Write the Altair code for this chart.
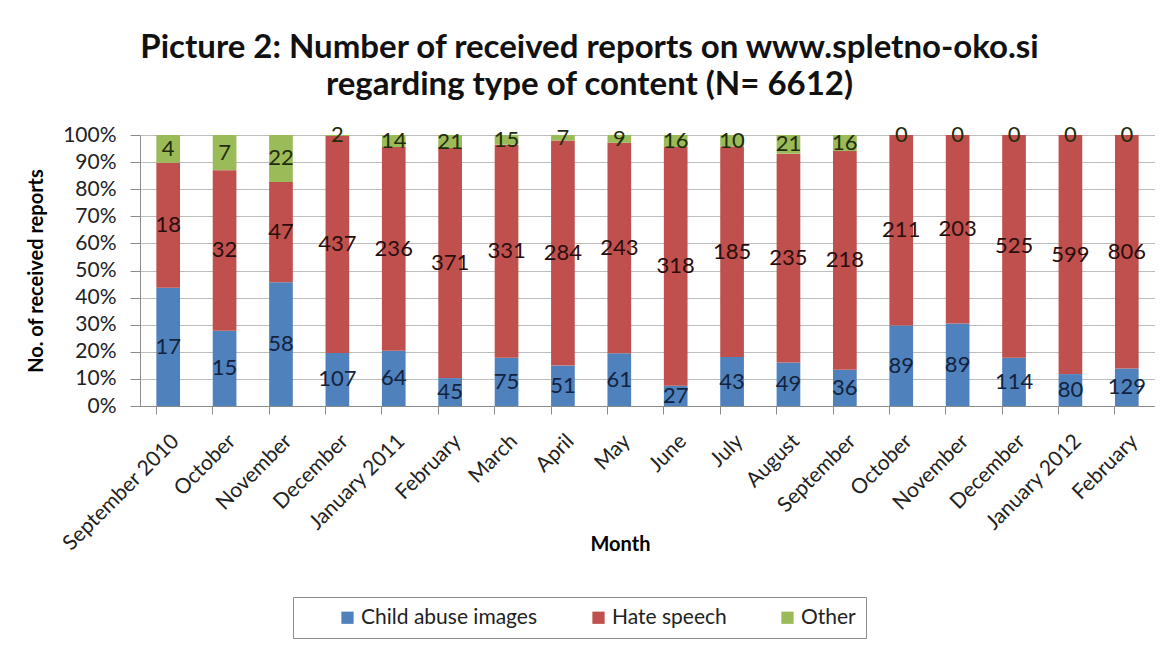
import json
import altair as alt
import pandas as pd

months = ["September 2010", "October", "November", "December", "January 2011",
          "February", "March", "April", "May", "June", "July", "August",
          "September", "October", "November", "December", "January 2012", "February"]
child = [17, 15, 58, 107, 64, 45, 75, 51, 61, 27, 43, 49, 36, 89, 89, 114, 80, 129]
hate = [18, 32, 47, 437, 236, 371, 331, 284, 243, 318, 185, 235, 218, 211, 203, 525, 599, 806]
other = [4, 7, 22, 2, 14, 21, 15, 7, 9, 16, 10, 21, 16, 0, 0, 0, 0, 0]
categories = ["Child abuse images", "Hate speech", "Other"]
colors = ["#4F81BD", "#C0504D", "#9BBB59"]
label_colors = ["#13233d", "#2a0e0d", "#1f2d0c"]
title_lines = ["Picture 2: Number of received reports on www.spletno-oko.si",
               "regarding type of content (N= 6612)"]

rows = []
for i in range(len(months)):
    for k, (cat, vals) in enumerate(zip(categories, [child, hate, other])):
        rows.append({"idx": i, "cat": cat, "order": k, "value": vals[i]})
df = pd.DataFrame(rows)

FONT = "Lato"
label_expr = json.dumps(months) + "[datum.value]"
xscale = alt.Scale(paddingInner=0.58, paddingOuter=0.29)
yscale = alt.Scale(domain=[0, 1])

label_axis = alt.Axis(labelExpr=label_expr, labelAngle=-45, ticks=False, domain=True,
                      domainColor="#8c8c8c", labelFontSize=21, labelPadding=24,
                      title="Month", titleFontSize=20, titleFontWeight="bold",
                      titleX=480, titleY=128, titleBaseline="top", orient="bottom",
                      labelColor="#222")
tick_axis = alt.Axis(labels=False, title=None, ticks=True, tickSize=8, bandPosition=0,
                     tickColor="#8c8c8c", domainColor="#8c8c8c", orient="bottom")
y_axis = alt.Axis(format="%", values=[i / 10 for i in range(11)],
                  title="No. of received reports", titleFontSize=20,
                  titleFontWeight="bold", titlePadding=16,
                  labelFontSize=21, labelColor="#222", tickSize=10, labelPadding=14,
                  tickColor="#8c8c8c", domainColor="#8c8c8c",
                  gridColor="#bdbdbd", grid=True)

bars = alt.Chart(df).mark_bar().encode(
    x=alt.X("idx:O", scale=xscale, axis=label_axis),
    y=alt.Y("value:Q", stack="normalize", scale=yscale, axis=y_axis),
    color=alt.Color("cat:N", scale=alt.Scale(domain=categories, range=colors),
                    legend=alt.Legend(title=None, orient="none", legendX=153, legendY=462,
                                      direction="horizontal", symbolType="square",
                                      symbolSize=150, labelFontSize=21, labelFont=FONT,
                                      columnPadding=16, strokeColor="#8c8c8c",
                                      padding=10, labelColor="#222", labelOffset=3,
                                      labelLimit=400, symbolOffset=34,
                                      symbolStrokeWidth=0)),
    order=alt.Order("order:Q", sort="ascending"),
)

texts = alt.Chart(df).transform_stack(
    stack="value", groupby=["idx"], as_=["y0", "y1"], offset="normalize",
    sort=[alt.SortField("order", order="ascending")]
).transform_calculate(mid="(datum.y0 + datum.y1) / 2").mark_text(
    fontSize=22, font=FONT
).encode(
    x=alt.X("idx:O", scale=xscale, axis=tick_axis),
    y=alt.Y("mid:Q", scale=yscale, axis=y_axis),
    text=alt.Text("value:Q"),
    color=alt.Color("cat:N", scale=alt.Scale(domain=categories, range=label_colors),
                    legend=None),
)

chart = alt.layer(bars, texts).resolve_scale(color="independent").resolve_axis(
    x="independent"
).properties(
    width=1015, height=271,
    autosize=alt.AutoSizeParams(type="none"),
    padding={"left": 132, "top": 127, "right": 0, "bottom": 238},
    title=alt.Title(title_lines, fontSize=33, font=FONT, fontWeight="bold",
                    anchor="middle", frame="group", dx=-58, offset=22,
                    lineHeight=37, color="#111"),
    background="white",
).configure_axis(labelFont=FONT, titleFont=FONT).configure_view(stroke=None)

chart.save("out.html", embed_options={"renderer": "svg", "actions": False})
